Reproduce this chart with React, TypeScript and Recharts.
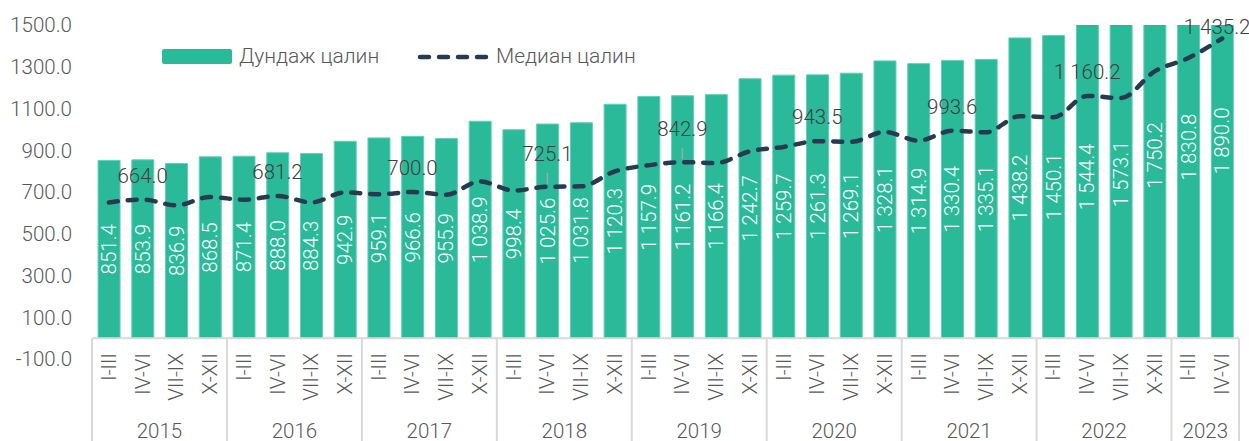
import React from "react";
import { ComposedChart, Bar, Line, XAxis, YAxis, ReferenceLine, LabelList } from "recharts";

const years = ["2015", "2016", "2017", "2018", "2019", "2020", "2021", "2022", "2023"];
const quartersPerYear = [4, 4, 4, 4, 4, 4, 4, 4, 2];
const quarterNames = ["I-III", "IV-VI", "VII-IX", "X-XII"];

// Дундаж цалин (average wage), thousand MNT
const averageWage = [
  851.4, 853.9, 836.9, 868.5,
  871.4, 888.0, 884.3, 942.9,
  959.1, 966.6, 955.9, 1038.9,
  998.4, 1025.6, 1031.8, 1120.3,
  1157.9, 1161.2, 1166.4, 1242.7,
  1259.7, 1261.3, 1269.1, 1328.1,
  1314.9, 1330.4, 1335.1, 1438.2,
  1450.1, 1544.4, 1573.1, 1750.2,
  1830.8, 1890.0,
];

const medianWage = [
  650, 664.0, 636, 676,
  663, 681.2, 650, 698,
  689, 700.0, 687, 751,
  707, 725.1, 727, 799,
  828, 842.9, 839, 895,
  916, 943.5, 940, 988,
  946, 993.6, 986, 1063,
  1058, 1160.2, 1150, 1278,
  1342, 1435.2,
];

const yTicks = [-100, 100, 300, 500, 700, 900, 1100, 1300, 1500];

const W = 1249;
const H = 441;
const PLOT_LEFT = 92;
const PLOT_RIGHT = 10;
const AXIS_H = 82;

const periodQuarter: string[] = [];
const periodYear: number[] = [];
quartersPerYear.forEach((n, yi) => {
  for (let q = 0; q < n; q++) {
    periodQuarter.push(quarterNames[q]);
    periodYear.push(yi);
  }
});

const data = averageWage.map((avg, i) => ({
  key: `${years[periodYear[i]]} ${periodQuarter[i]}`,
  avg,
  median: medianWage[i],
}));

const BAND = (W - PLOT_LEFT - PLOT_RIGHT) / data.length;
const LEADER_AT = new Set([13, 17]);

const TEXT = "#595959";
const GRID = "#d9d9d9";
const GREEN = "#2aba9a";
const NAVY = "#283a4f";
const FONT = "Roboto, 'Open Sans', sans-serif";
const FS = 20.5;

function fmt(v: number): string {
  if (v >= 1000) {
    const rest = (v % 1000).toFixed(1).padStart(5, "0");
    return `${Math.floor(v / 1000)} ${rest}`;
  }
  return v.toFixed(1);
}

function PeriodTick(props: any) {
  const { x, y, payload } = props;
  const i: number = payload?.index ?? props.index ?? 0;
  const yi = periodYear[i];
  const firstOfYear = i === 0 || periodYear[i - 1] !== yi;
  const last = i === data.length - 1;
  const zeroY = y - 20.5;
  const ty = y - 6;
  const groupW = quartersPerYear[yi] * BAND;
  return (
    <g>
      <text
        x={x}
        y={ty}
        transform={`rotate(-90, ${x}, ${ty})`}
        textAnchor="end"
        dominantBaseline="central"
        fill={TEXT}
        fontSize={FS}
        fontWeight={300}
        fontFamily={FONT}
      >
        {periodQuarter[i]}
      </text>
      {firstOfYear && (
        <>
          <line x1={x - BAND / 2} x2={x - BAND / 2} y1={zeroY} y2={H} stroke={GRID} strokeWidth={2} />
          <text
            x={x - BAND / 2 + groupW / 2}
            y={y + 72}
            textAnchor="middle"
            dominantBaseline="central"
            fill={TEXT}
            fontSize={FS}
            fontWeight={300}
            fontFamily={FONT}
          >
            {years[yi]}
          </text>
        </>
      )}
      {last && <line x1={x + BAND / 2} x2={x + BAND / 2} y1={zeroY} y2={H} stroke={GRID} strokeWidth={2} />}
    </g>
  );
}

function BarValueLabel(props: any) {
  const vb = props.viewBox ?? {};
  const x = props.x ?? vb.x;
  const y = props.y ?? vb.y;
  const w = props.width ?? vb.width;
  const h = props.height ?? vb.height;
  const cx = x + w / 2;
  const cy = y + h / 2;
  return (
    <text
      x={cx}
      y={cy}
      transform={`rotate(-90, ${cx}, ${cy})`}
      textAnchor="middle"
      dominantBaseline="central"
      fill="#ffffff"
      fontSize={FS}
      fontWeight={300}
      fontFamily={FONT}
    >
      {fmt(Number(props.value))}
    </text>
  );
}

function MedianLabel(props: any) {
  const i: number = props.index;
  if (i % 4 !== 1) return null;
  const vb = props.viewBox ?? {};
  const x = props.x ?? vb.x;
  const y = props.y ?? vb.y;
  const leader = LEADER_AT.has(i);
  const ly = Math.max(y - (leader ? 33 : 24), 27);
  return (
    <g>
      {leader && <line x1={x} x2={x} y1={y - 3} y2={y - 14} stroke="#a6a6a6" strokeWidth={1.5} />}
      <text
        x={i === data.length - 1 ? x - 5 : x}
        y={ly}
        textAnchor="middle"
        dominantBaseline="central"
        fill="#404040"
        fontSize={FS}
        fontWeight={300}
        fontFamily={FONT}
      >
        {fmt(Number(props.value))}
      </text>
    </g>
  );
}

function LegendOverlay() {
  const textStyle: React.CSSProperties = {
    position: "absolute",
    top: 43,
    fontFamily: FONT,
    fontWeight: 300,
    fontSize: 21,
    lineHeight: "27px",
    color: TEXT,
    whiteSpace: "nowrap",
  };
  return (
    <>
      <div
        style={{ position: "absolute", left: 162, top: 49, width: 70, height: 15, background: GREEN, borderRadius: 2 }}
      />
      <div style={{ ...textStyle, left: 239 }}>Дундаж цалин</div>
      <svg style={{ position: "absolute", left: 414, top: 50 }} width={78} height={14}>
        <line x1={6} x2={72} y1={7} y2={7} stroke={NAVY} strokeWidth={4.5} strokeDasharray="9 10" strokeLinecap="round" />
      </svg>
      <div style={{ ...textStyle, left: 496 }}>Медиан цалин</div>
    </>
  );
}

export default function App() {
  return (
    <div style={{ position: "absolute", left: 0, top: 0, width: W, height: H, background: "#fff" }}>
      <ComposedChart
        width={W}
        height={H}
        data={data}
        margin={{ top: 25, right: PLOT_RIGHT, bottom: 0, left: 0 }}
        barCategoryGap="18%"
      >
        <XAxis
          dataKey="key"
          interval={0}
          height={AXIS_H}
          axisLine={false}
          tickLine={false}
          tickSize={0}
          tickMargin={0}
          tick={<PeriodTick />}
        />
        <YAxis
          width={PLOT_LEFT}
          domain={[-100, 1500]}
          allowDataOverflow
          ticks={yTicks}
          interval={0}
          axisLine={false}
          tickLine={false}
          tickMargin={14}
          tickFormatter={(v: number) => v.toFixed(1)}
          tick={{ fill: TEXT, fontSize: FS, fontWeight: 300, fontFamily: FONT }}
        />
        <Bar dataKey="avg" fill={GREEN} stroke="#63cfb6" strokeWidth={1} isAnimationActive={false}>
          <LabelList dataKey="avg" content={<BarValueLabel />} />
        </Bar>
        <ReferenceLine y={0} stroke={GRID} strokeWidth={2} />
        <Line
          dataKey="median"
          type="monotone"
          stroke={NAVY}
          strokeWidth={4.5}
          strokeDasharray="9 10"
          strokeLinecap="round"
          dot={false}
          activeDot={false}
          isAnimationActive={false}
        >
          <LabelList dataKey="median" content={<MedianLabel />} />
        </Line>
      </ComposedChart>
      <LegendOverlay />
    </div>
  );
}
